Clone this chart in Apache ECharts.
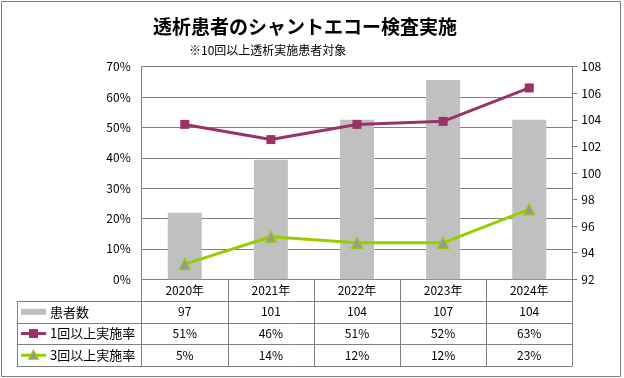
<!DOCTYPE html>
<html><head><meta charset="utf-8">
<script src="https://cdn.jsdelivr.net/npm/echarts@6/dist/echarts.min.js"></script>
<style>html,body{margin:0;padding:0;background:#fff}#c{width:624px;height:378px}</style>
</head><body><div id="c"></div>
<script>
const categories = ['2020年','2021年','2022年','2023年','2024年'];
const patients = [97, 101, 104, 107, 104];
const rate1 = [51, 46, 51, 52, 63];
const rate3 = [5, 14, 12, 12, 23];
const seriesNames = ['患者数', '1回以上実施率', '3回以上実施率'];
const titleText = '透析患者のシャントエコー検査実施';
const subtitleText = '※10回以上透析実施患者対象';

const FONT = '"Noto Sans CJK JP", sans-serif';
const GRAY = '#808080';
const BAR = '#C0C0C0';
const PURPLE = '#993366';
const GREEN = '#99CC00';

const G = {left: 141.7, right: 51.7, top: 66.7, bottom: 98.7};
const chart = echarts.init(document.getElementById('c'));
chart.setOption({
  animation: false,
  textStyle: {fontFamily: FONT},
  title: [
    {text: titleText, left: 148, top: 12, textStyle: {fontSize: 19, fontWeight: 'bold', color: '#000', fontFamily: FONT}},
    {text: subtitleText, left: 184, top: 39, textStyle: {fontSize: 12, fontWeight: 'normal', color: '#000', fontFamily: FONT}}
  ],
  grid: G,
  xAxis: {
    type: 'category', data: categories, boundaryGap: true,
    axisLine: {lineStyle: {color: GRAY, width: 1}},
    axisTick: {show: true, interval: 0, length: 87, lineStyle: {color: GRAY, width: 1}},
    axisLabel: {color: '#000', fontSize: 12, margin: 5, interval: 0}
  },
  yAxis: [
    {type: 'value', min: 0, max: 70, interval: 10,
     axisLine: {show: true, lineStyle: {color: GRAY}},
     axisTick: {show: false},
     splitLine: {lineStyle: {color: GRAY, width: 1}},
     axisLabel: {formatter: '{value}%', color: '#000', fontSize: 12, margin: 11}},
    {type: 'value', min: 92, max: 108, interval: 2, position: 'right',
     axisLine: {show: true, lineStyle: {color: GRAY}},
     axisTick: {show: true, length: 5, lineStyle: {color: GRAY}},
     splitLine: {show: false},
     axisLabel: {color: '#000', fontSize: 12, margin: 9}}
  ],
  series: [
    {name: seriesNames[0], type: 'bar', yAxisIndex: 1, data: patients, barWidth: 34,
     itemStyle: {color: BAR}},
    {name: seriesNames[1], type: 'line', yAxisIndex: 0, data: rate1,
     symbol: 'rect', symbolSize: 9, lineStyle: {color: PURPLE, width: 3},
     itemStyle: {color: PURPLE}},
    {name: seriesNames[2], type: 'line', yAxisIndex: 0, data: rate3,
     symbol: 'triangle', symbolSize: 11, lineStyle: {color: GREEN, width: 3},
     itemStyle: {color: '#999999', borderColor: GREEN, borderWidth: 1.2}}
  ]
});

// data table under the chart
const rowTop = 378 - G.bottom;
const headH = 21.7, rowH = 21.7;
const tLeft = 16.7, tRight = 624 - G.right;
const elems = [];
const lineStyle = {stroke: GRAY, lineWidth: 1};
for (let k = 1; k <= 4; k++) {
  const y = Math.round(rowTop + headH + rowH * (k - 1)) + 0.5;
  elems.push({type: 'line', shape: {x1: tLeft, y1: y, x2: tRight, y2: y}, style: lineStyle, silent: true});
}
const yTop = Math.round(rowTop + headH) + 0.5, yBot = Math.round(rowTop + headH + rowH * 3) + 0.5;
elems.push({type: 'line', shape: {x1: Math.round(tLeft) + 0.5, y1: yTop, x2: Math.round(tLeft) + 0.5, y2: yBot}, style: lineStyle, silent: true});
const rows = [
  patients.map(v => String(v)),
  rate1.map(v => v + '%'),
  rate3.map(v => v + '%')
];
rows.forEach((r, ri) => {
  const cy = rowTop + headH + rowH * ri + rowH / 2;
  r.forEach((t, ci) => {
    const cx = chart.convertToPixel({xAxisIndex: 0}, ci);
    elems.push({type: 'text', x: cx, y: cy, style: {text: t, fill: '#000', font: '12px ' + FONT, align: 'center', verticalAlign: 'middle'}, silent: true});
  });
  elems.push({type: 'text', x: 50, y: cy, style: {text: seriesNames[ri], fill: '#000', font: '13px ' + FONT, align: 'left', verticalAlign: 'middle'}, silent: true});
});
// legend keys
const k0 = rowTop + headH + rowH / 2;
elems.push({type: 'rect', shape: {x: 21, y: k0 - 3, width: 25, height: 6}, style: {fill: BAR}, silent: true});
const k1 = k0 + rowH;
elems.push({type: 'line', shape: {x1: 21, y1: k1, x2: 46, y2: k1}, style: {stroke: PURPLE, lineWidth: 3}, silent: true});
elems.push({type: 'rect', shape: {x: 29, y: k1 - 4.5, width: 9, height: 9}, style: {fill: PURPLE}, silent: true});
const k2 = k1 + rowH;
elems.push({type: 'line', shape: {x1: 21, y1: k2, x2: 46, y2: k2}, style: {stroke: GREEN, lineWidth: 3}, silent: true});
elems.push({type: 'polygon', shape: {points: [[33.5, k2 - 5], [38.5, k2 + 4], [28.5, k2 + 4]]}, style: {fill: '#999999', stroke: GREEN, lineWidth: 1.2}, silent: true});
// outer border
elems.push({type: 'rect', shape: {x: 1.5, y: 1.5, width: 619, height: 375}, style: {fill: 'none', stroke: GRAY, lineWidth: 1}, silent: true});
chart.setOption({graphic: elems});
</script>
</body></html>
